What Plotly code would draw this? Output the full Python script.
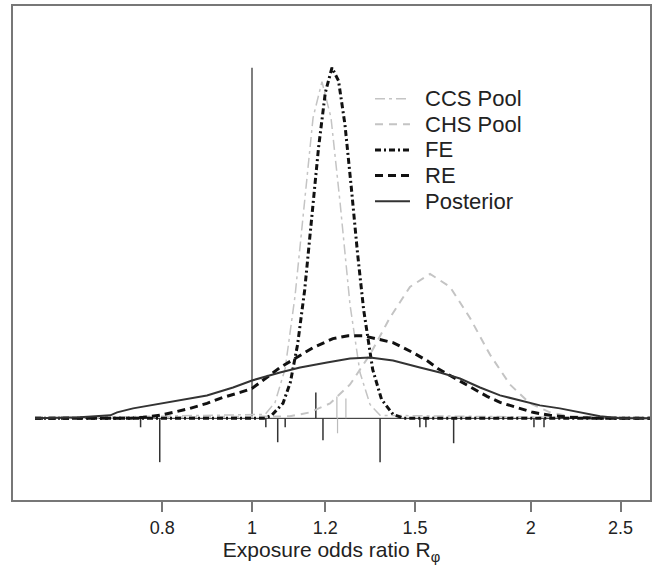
import plotly.graph_objects as go

# ---------------- data ----------------
tick_vals = [0.8, 1, 1.2, 1.5, 2, 2.5]
tick_text = ["0.8", "1", "1.2", "1.5", "2", "2.5"]

x_lo, x_hi = 0.583, 2.72          # extent of the drawn curves / baseline

ccs_or = [0.583, 1.033, 1.059, 1.086, 1.113, 1.141, 1.164, 1.190, 1.217, 1.245, 1.276, 1.308, 1.341, 1.375, 2.72]
ccs_d = [0, 0.08, 0.32, 1.0, 2.46, 4.52, 6.04, 6.76, 6.04, 4.32, 2.28, 0.92, 0.28, 0.06, 0]

chs_or = [0.583, 1.099, 1.155, 1.214, 1.276, 1.341, 1.409, 1.481, 1.557, 1.636, 1.719, 1.807, 1.899, 1.996, 2.098, 2.205, 2.72]
chs_d = [0, 0.04, 0.12, 0.3, 0.68, 1.28, 2.02, 2.64, 2.9, 2.64, 2.02, 1.28, 0.68, 0.3, 0.12, 0.04, 0]

fe_or = [0.583, 1.03, 1.05, 1.08, 1.10, 1.12, 1.14, 1.16, 1.18, 1.20, 1.22, 1.24, 1.26, 1.28, 1.30, 1.32, 1.35, 1.38, 1.42, 1.46, 2.72]
fe_d = [0, 0, 0.06, 0.3, 0.72, 1.48, 2.58, 4.0, 5.44, 6.54, 7.04, 6.78, 5.9, 4.64, 3.32, 2.18, 0.98, 0.38, 0.08, 0, 0]

re_or = [0.583, 0.739, 0.763, 0.795, 0.822, 0.857, 0.894, 0.930, 0.971, 1.0, 1.072, 1.118, 1.164, 1.223, 1.270,
         1.318, 1.385, 1.420, 1.492, 1.545, 1.587, 1.657, 1.728, 1.794, 1.853, 1.933, 2.011, 2.098, 2.206, 2.376, 2.72]
re_d = [0, 0, 0.02, 0.06, 0.12, 0.2, 0.3, 0.42, 0.52, 0.6, 1.02, 1.22, 1.42, 1.6, 1.66,
        1.66, 1.56, 1.52, 1.32, 1.16, 1.0, 0.8, 0.6, 0.44, 0.32, 0.22, 0.12, 0.06, 0.02, 0, 0]

post_or = [0.583, 0.652, 0.703, 0.715, 0.744, 0.809, 0.894, 0.954, 1.0, 1.072, 1.127, 1.205, 1.276, 1.341,
           1.420, 1.518, 1.596, 1.677, 1.763, 1.853, 1.947, 2.046, 2.150, 2.300, 2.376, 2.497, 2.72]
post_d = [0, 0.02, 0.06, 0.12, 0.2, 0.32, 0.46, 0.62, 0.76, 0.92, 1.02, 1.12, 1.2, 1.22,
          1.16, 1.02, 0.92, 0.8, 0.62, 0.46, 0.36, 0.26, 0.2, 0.1, 0.04, 0, 0]

# individual study markers (odds ratio, mark length)
study_or_dark = [0.758, 0.795, 1.035, 1.066, 1.086, 1.193, 1.375, 1.518, 1.541, 1.651, 2.016, 2.067]
study_len_dark = [-0.18, -0.88, -0.18, -0.48, -0.18, -0.44, -0.88, -0.18, -0.18, -0.5, -0.18, -0.18]
study_or_up = [1.172]
study_len_up = [0.52]
study_or_light = [1.237, 1.263, 1.235]
study_len_light = [-0.3, 0.4, 0.44]

ref_or = 1.0

series_names = ["CCS Pool", "CHS Pool", "FE", "RE", "Posterior"]

FONT = "Liberation Sans, Arial, Helvetica, sans-serif"

styles = [
    dict(color="#c4c4c4", width=1.5, dash="10px,4px,3px,4px"),
    dict(color="#c4c4c4", width=2, dash="8px,6px"),
    dict(color="#111", width=3, dash="6px,3px,2px,3px"),
    dict(color="#111", width=3, dash="8px,5px"),
    dict(color="#333", width=2),
]


def spikes(xs, ls):
    sx, sy = [], []
    for x, l in zip(xs, ls):
        sx += [x, x, None]
        sy += [0, l, None]
    return sx, sy


fig = go.Figure()

# baseline
fig.add_trace(go.Scatter(x=[x_lo, x_hi], y=[0, 0], mode="lines",
                         line=dict(color="#222", width=1), showlegend=False, hoverinfo="skip"))
# reference line at OR = 1
fig.add_trace(go.Scatter(x=[ref_or, ref_or], y=[0, max(fe_d)], mode="lines",
                         line=dict(color="#555", width=1.5), showlegend=False, hoverinfo="skip"))
# study marks
sx, sy = spikes(study_or_dark + study_or_up, study_len_dark + study_len_up)
fig.add_trace(go.Scatter(x=sx, y=sy, mode="lines", line=dict(color="#333", width=1.5),
                         showlegend=False, hoverinfo="skip"))
sx, sy = spikes(study_or_light, study_len_light)
fig.add_trace(go.Scatter(x=sx, y=sy, mode="lines", line=dict(color="#bbb", width=1.2),
                         showlegend=False, hoverinfo="skip"))

curves = [(ccs_or, ccs_d), (chs_or, chs_d), (fe_or, fe_d), (re_or, re_d), (post_or, post_d)]
for (xs, ys), name, st in zip(curves, series_names, styles):
    fig.add_trace(go.Scatter(x=xs, y=ys, mode="lines", name=name, line=st, showlegend=False))

# hand-placed legend (sample lines + labels)
leg_x0, leg_x1, leg_tx = 0.5683, 0.6232, 0.6436
leg_top, leg_step = 0.8125, 0.0519
shapes, annos = [], []
for i, (name, st) in enumerate(zip(series_names, styles)):
    yy = leg_top - i * leg_step
    shapes.append(dict(type="line", xref="paper", yref="paper", x0=leg_x0, x1=leg_x1,
                       y0=yy, y1=yy, line=st))
    annos.append(dict(xref="paper", yref="paper", x=leg_tx, y=yy, xanchor="left", yanchor="middle",
                      text=name, showarrow=False, font=dict(size=22, family=FONT, color="#222")))

fig.update_layout(
    width=658, height=575,
    margin=dict(l=13, r=8, t=4, b=75),
    paper_bgcolor="white", plot_bgcolor="white",
    font=dict(family=FONT, color="#222"),
    showlegend=False,
    shapes=shapes, annotations=annos,
    xaxis=dict(type="log", range=[-0.2581, 0.4298], tickvals=tick_vals, ticktext=tick_text,
               ticks="outside", ticklen=10, tickwidth=1.5, tickcolor="#777",
               showline=True, linecolor="#777", linewidth=2, mirror=True,
               showgrid=False, zeroline=False,
               tickfont=dict(size=18, family=FONT, color="#222"),
               title=dict(text="Exposure odds ratio R<sub>φ</sub>", standoff=6,
                          font=dict(size=21, family=FONT, color="#222"))),
    yaxis=dict(range=[-1.64, 8.28], showticklabels=False, ticks="",
               showline=True, linecolor="#777", linewidth=2, mirror=True,
               showgrid=False, zeroline=False),
)

fig.write_html("out.html")
